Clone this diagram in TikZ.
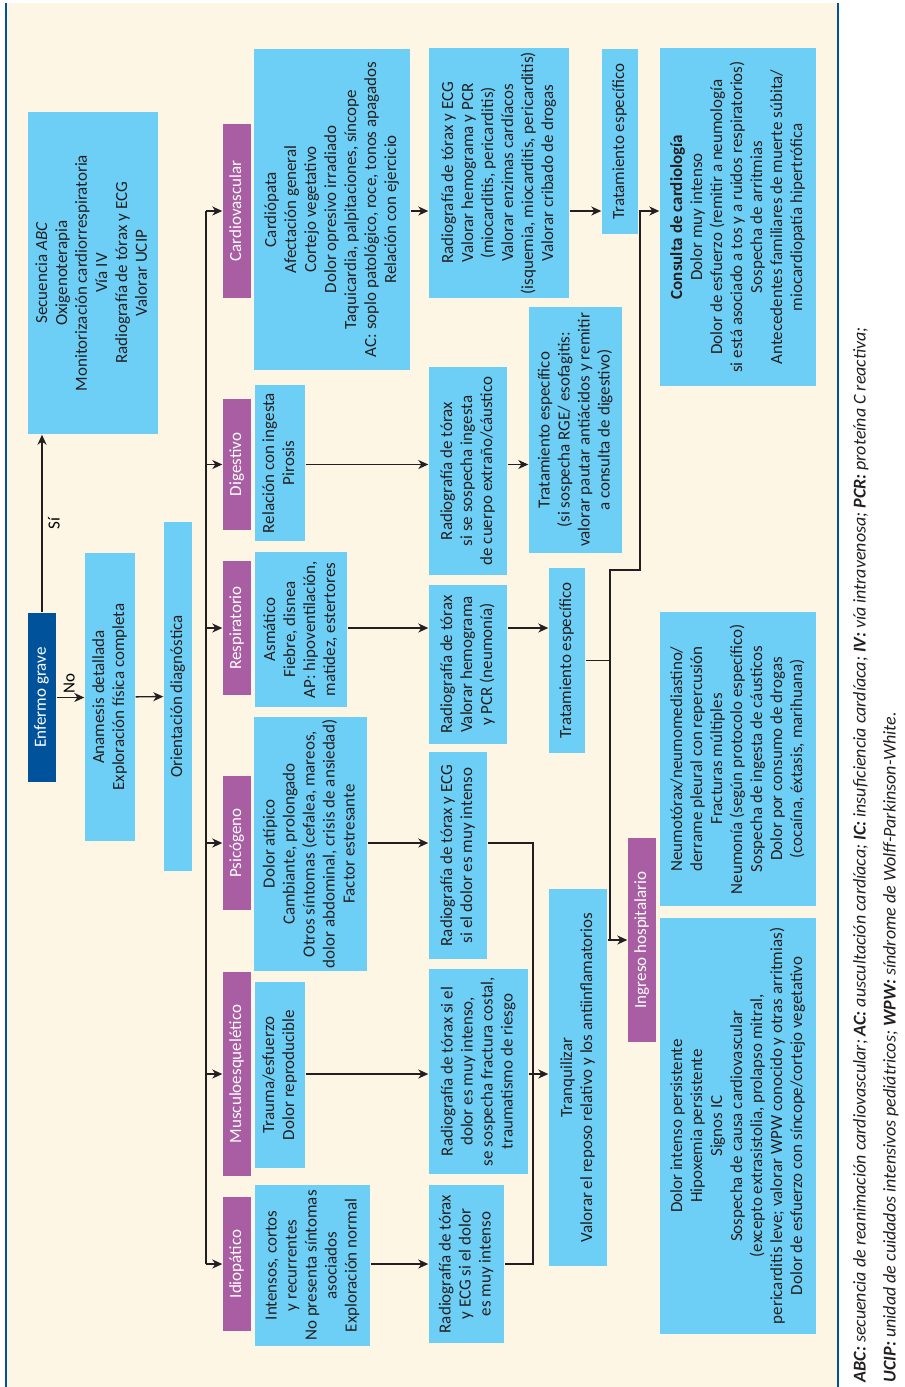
\documentclass[tikz,border=0pt]{standalone}
\usepackage{fontspec}
\setmainfont{Carlito}
\usepackage{graphicx}
\usetikzlibrary{arrows.meta}
\definecolor{fondo}{HTML}{FEF6E5}
\definecolor{celeste}{HTML}{6DCFF6}
\definecolor{morado}{HTML}{A95DA3}
\definecolor{azul}{HTML}{00529B}
\definecolor{tinta}{HTML}{231F20}
\newcommand{\giro}[1]{\rotatebox{90}{\begin{tabular}{@{}c@{}}#1\end{tabular}}}
\tikzset{
  caja/.style={fill=celeste, text=tinta, inner sep=0pt, font=\fontsize{17}{20}\selectfont},
  etiqueta/.style={fill=morado, text=white, inner sep=0pt, minimum width=28pt, font=\fontsize{17}{20}\selectfont},
  flecha/.style={-{Stealth[length=10pt,width=9pt,inset=3pt]}},
}
\begin{document}
\begin{tikzpicture}[x=1pt,y=-1pt,line width=1.4pt,draw=tinta]
		\useasboundingbox (0,0) rectangle (905,1387);
		\fill[fondo] (6,3) rectangle (838,1387);
		\draw[azul,line width=1.2pt] (6,3) -- (6,1387) (838,3) -- (838,1387);
		\def\lab{237}
		\node[caja,fill=azul,text=white,minimum width=28pt,minimum height=169pt] (enfermo) at (42,697.5) {\giro{Enfermo grave}};
		\node[caja,minimum width=130pt,minimum height=322pt] (secuencia) at (93,273) {\giro{Secuencia \textit{ABC}\\ Oxigenoterapia\\ Monitorización cardiorrespiratoria\\ Vía IV\\ Radiografía de tórax y ECG\\ Valorar UCIP}};
		\node[caja,minimum width=50pt,minimum height=288pt] (anamnesis) at (110,697) {\giro{Anamesis detallada\\ Exploración física completa}};
		\node[caja,minimum width=28pt,minimum height=349pt] (orientacion) at (178,696.5) {\giro{Orientación diagnóstica}};
%
		\node[etiqueta,minimum height=174pt] (cardiolab) at (\lab,211) {\giro{Cardiovascular}};
		\node[etiqueta,minimum height=131pt] (diglab) at (\lab,464.5) {\giro{Digestivo}};
		\node[etiqueta,minimum height=134pt] (resplab) at (\lab,628) {\giro{Respiratorio}};
		\node[etiqueta,minimum height=134pt] (psicolab) at (\lab,843) {\giro{Psicógeno}};
		\node[etiqueta,minimum height=204pt] (musclab) at (\lab,1074) {\giro{Musculoesquelético}};
		\node[etiqueta,minimum height=134pt] (idiolab) at (\lab,1264) {\giro{Idiopático}};
%
		\node[caja,minimum width=156pt,minimum height=321pt] (cardio) at (332,209.5) {\giro{Cardiópata\\ Afectación general\\ Cortejo vegetativo\\ Dolor opresivo irradiado\\ Taquicardia, palpitaciones, síncope\\ AC: soplo patológico, roce, tonos apagados\\ Relación con ejercicio}};
		\node[caja,minimum width=50pt,minimum height=156pt] (dig) at (280,463) {\giro{Relación con ingesta\\ Pirosis}};
		\node[caja,minimum width=92pt,minimum height=155pt] (resp) at (301,629.5) {\giro{Asmático\\ Fiebre, disnea\\ AP: hipoventilación,\\ matidez, estertores}};
		\node[caja,minimum width=113pt,minimum height=254pt] (psico) at (310.5,844) {\giro{Dolor atípico\\ Cambiante, prolongado\\ Otros síntomas (cefalea, mareos,\\ dolor abdominal, crisis de ansiedad)\\ Factor estresante}};
		\node[caja,minimum width=50pt,minimum height=186pt] (musc) at (280,1075) {\giro{Trauma/esfuerzo\\ Dolor reproducible}};
		\node[caja,minimum width=115pt,minimum height=161pt] (idio) at (312.5,1265.5) {\giro{Intensos, cortos\\ y recurrentes\\ No presenta síntomas\\ asociados\\ Exploración normal}};
%
		\node[caja,minimum width=140pt,minimum height=250pt] (cardiorad) at (499,173) {\giro{Radiografía de tórax y ECG\\ Valorar hemograma y PCR\\ (miocarditis, pericarditis)\\ Valorar enzimas cardíacos\\ (isquemia, miocarditis, pericarditis)\\ Valorar cribado de drogas}};
		\node[caja,minimum width=78pt,minimum height=208pt] (digrad) at (468,471) {\giro{Radiografía de tórax\\ si se sospecha ingesta\\ de cuerpo extraño/cáustico}};
		\node[caja,minimum width=78pt,minimum height=159pt] (resprad) at (468,664.5) {\giro{Radiografía de tórax\\ Valorar hemograma\\ y PCR (neumonía)}};
		\node[caja,minimum width=58pt,minimum height=207pt] (psicorad) at (458,855.5) {\giro{Radiografía de tórax y ECG\\ si el dolor es muy intenso}};
		\node[caja,minimum width=99pt,minimum height=205pt] (muscrad) at (478.5,1071.5) {\giro{Radiografía de tórax si el\\ dolor es muy intenso,\\ se sospecha fractura costal,\\ traumatismo de riesgo}};
		\node[caja,minimum width=75pt,minimum height=158pt] (idiorad) at (466.5,1264) {\giro{Radiografía de tórax\\ y ECG si el dolor\\ es muy intenso}};
%
		\node[caja,minimum width=36pt,minimum height=185pt] (tratcardio) at (620,141.5) {\giro{Tratamiento específico}};
		\node[caja,minimum width=93pt,minimum height=246pt] (tratdig) at (575.5,430) {\giro{Tratamiento específico\\ (si sospecha RGE/ esofagitis:\\ valorar pautar antiácidos y remitir\\ a consulta de digestivo)}};
		\node[caja,minimum width=36pt,minimum height=185pt] (tratresp) at (567,660.5) {\giro{Tratamiento específico}};
		\node[caja,minimum width=58pt,minimum height=377pt] (tranq) at (578,1077.5) {\giro{Tranquilizar\\ Valorar el reposo relativo y los antiinflamatorios}};
		\node[etiqueta,minimum height=204pt] (ingreso) at (642,940) {\giro{Ingreso hospitalario}};
		\node[caja,minimum width=156pt,minimum height=338pt] (consulta) at (738,217) {\giro{\textbf{Consulta de cardiología}\\ Dolor muy intenso\\ Dolor de esfuerzo (remitir a neumología\\ si está asociado a tos y a ruidos respiratorios)\\ Sospecha de arritmias\\ Antecedentes familiares de muerte súbita/\\ miocardiopatía hipertrófica}};
		\node[caja,minimum width=156pt,minimum height=294pt] (neumo) at (738,759) {\giro{Neumotórax/neumomediastino/\\ derrame pleural con repercusión\\ Fracturas múltiples\\ Neumonía (según protocolo específico)\\ Sospecha de ingesta de cáusticos\\ Dolor por consumo de drogas\\ (cocaína, éxtasis, marihuana)}};
		\node[caja,minimum width=156pt,minimum height=416pt] (dolor) at (738,1126) {\giro{Dolor intenso persistente\\ Hipoxemia persistente\\ Signos IC\\ Sospecha de causa cardiovascular\\ (excepto extrasistolia, prolapso mitral,\\ pericarditis leve; valorar WPW conocido y otras arritmias)\\ Dolor de esfuerzo con síncope/cortejo vegetativo}};
%
		\draw[flecha] (enfermo) -- (enfermo |- secuencia.south) node[midway,right=2pt,inner sep=1pt,font=\fontsize{17}{20}\selectfont] {\giro{Sí}};
		\draw[flecha] (enfermo) -- (enfermo -| anamnesis.west) node[midway,above=2pt,inner sep=1pt,font=\fontsize{17}{20}\selectfont] {\giro{No}};
		\draw[flecha] (anamnesis) -- (orientacion);
		\coordinate (tronco) at (206,211);
		\draw (tronco |- cardiolab) -- (tronco |- idiolab);
		\foreach \n in {cardiolab,diglab,resplab,psicolab,musclab,idiolab}
			\draw[flecha] (tronco |- \n) -- (\n);
		\foreach \a/\b/\l in {cardio/cardiorad/cardiolab,dig/digrad/diglab,resp/resprad/resplab,psico/psicorad/psicolab,musc/muscrad/musclab,idio/idiorad/idiolab}
			\draw[flecha] (\a.east |- \l) -- (\b.west |- \l);
		\draw[flecha] (cardiorad.east |- cardiolab) -- (tratcardio.west |- cardiolab);
		\draw[flecha] (digrad.east |- diglab) -- (tratdig.west |- diglab);
		\draw[flecha] (resprad.east |- resplab) -- (tratresp.west |- resplab);
		\draw[flecha] (muscrad.east |- musclab) -- (tranq.west |- musclab);
		\coordinate (junta) at (533,843);
		\draw (psicorad.east |- psicolab) -| (junta |- idiolab) -- (idiorad.east |- idiolab);
		\draw[flecha] (tratcardio.east |- cardiolab) -- (consulta.west |- cardiolab);
		\coordinate (bajada) at (640,211);
		\coordinate (codo) at (610,570);
		\draw (bajada) |- (codo) -- (codo |- ingreso);
		\draw (tratresp.east) -- (tratresp.east -| codo);
		\draw[flecha] (tranq.east |- ingreso) -- (ingreso);
%
		\node[anchor=south west,inner sep=0pt,text=tinta,font=\fontsize{18}{30}\selectfont\itshape] (notas) at (844,1383) {\rotatebox{90}{\begin{tabular}{@{}l@{}}\textbf{ABC:} secuencia de reanimación cardiovascular; \textbf{AC:} auscultación cardíaca; \textbf{IC:} insuficiencia cardíaca; \textbf{IV:} vía intravenosa; \textbf{PCR:} proteína C reactiva;\\ \textbf{UCIP:} unidad de cuidados intensivos pediátricos; \textbf{WPW:} síndrome de Wolff-Parkinson-White.\end{tabular}}};
\end{tikzpicture}
\end{document}
